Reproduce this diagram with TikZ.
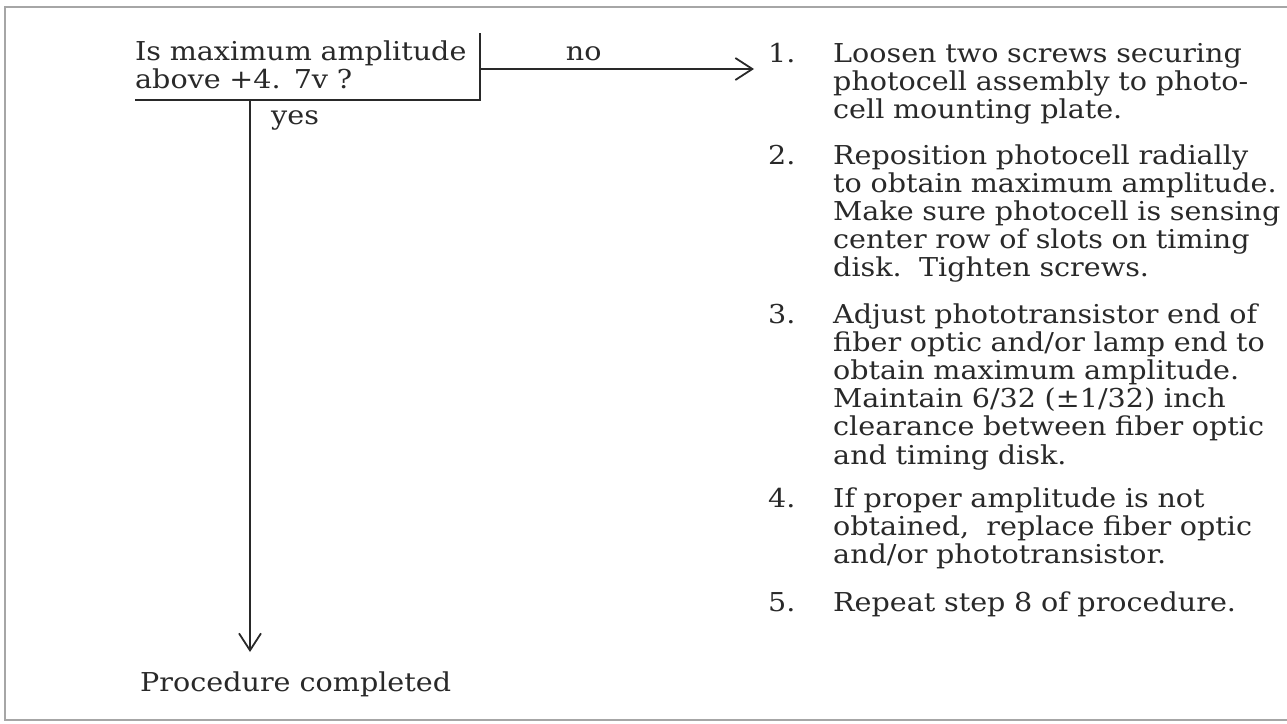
\documentclass[tikz,border=0pt]{standalone}
\usepackage{fontspec}
\usepackage{xcolor}
\usetikzlibrary{arrows.meta,positioning}
\newfontfamily\manualface[FakeStretch=1.1]{DejaVu Serif}
\definecolor{ink}{gray}{0.16}
\tikzset{
  txt/.style={font={\manualface\fontsize{26}{28.2}\selectfont}, inner sep=0pt, text=ink},
  steptext/.style={txt, anchor=base west, text width=500pt, align=left},
  stepnum/.style={txt, anchor=base west},
  flow/.style={line width=1.8pt, draw=ink},
  arrow/.style={flow, -{Straight Barb[length=17pt, width=22pt, line width=1.8pt]}},
  frame/.style={line width=1.8pt, draw=gray!70}
}

\begin{document}
\begin{tikzpicture}[x=1pt,y=-1pt]
  \useasboundingbox (0,0) rectangle (1287,723);
  % frame of the page
  \draw[frame] (1287,7) -- (5,7) -- (5,720) -- (1287,720);

  % decision
  \node[steptext, text width=360pt] (q) at (135,60) {Is maximum amplitude\\above +4. 7v ?};
  \coordinate (qtr) at (480,33);
  \coordinate (qbr) at (480,100);
  \coordinate (qbl) at (135,100);
  \draw[flow] (qtr) -- (qbr) -- (qbl);
  \coordinate (noout) at (480,69);
  \coordinate (yesout) at (250,100);
  \coordinate (yesend) at (250,652);

  % corrective steps
  \node[steptext] (s1) at (833,62) {Loosen two screws securing\\photocell assembly to photo-\\cell mounting plate.};
  \node[steptext] (s2) at (833,164) {Reposition photocell radially\\to obtain maximum amplitude.\\Make sure photocell is sensing\\center row of slots on timing\\disk.\ \ Tighten screws.};
  \node[steptext] (s3) at (833,323) {Adjust phototransistor end of\\fiber optic and/or lamp end to\\obtain maximum amplitude.\\Maintain 6/32 (±1/32) inch\\clearance between fiber optic\\and timing disk.};
  \node[steptext] (s4) at (833,507) {If proper amplitude is not\\obtained,\ \ replace fiber optic\\and/or phototransistor.};
  \node[steptext] (s5) at (833,611) {Repeat step 8 of procedure.};
  \node[stepnum] (n1) at (768,62) {1.};
  \node[stepnum] (n2) at (768,164) {2.};
  \node[stepnum] (n3) at (768,323) {3.};
  \node[stepnum] (n4) at (768,507) {4.};
  \node[stepnum] (n5) at (768,611) {5.};

  % end
  \node[stepnum] (done) at (140,691) {Procedure completed};

  % branches
  \draw[arrow] (noout) -- ([xshift=-14pt]noout -| n1.west) node[pos=0.31, txt, anchor=base west, yshift=9pt] (nolbl) {no};
  \draw[arrow] (yesout) -- (yesend);
  \node[stepnum] (yeslbl) at (271,124) {yes};
\end{tikzpicture}
\end{document}
